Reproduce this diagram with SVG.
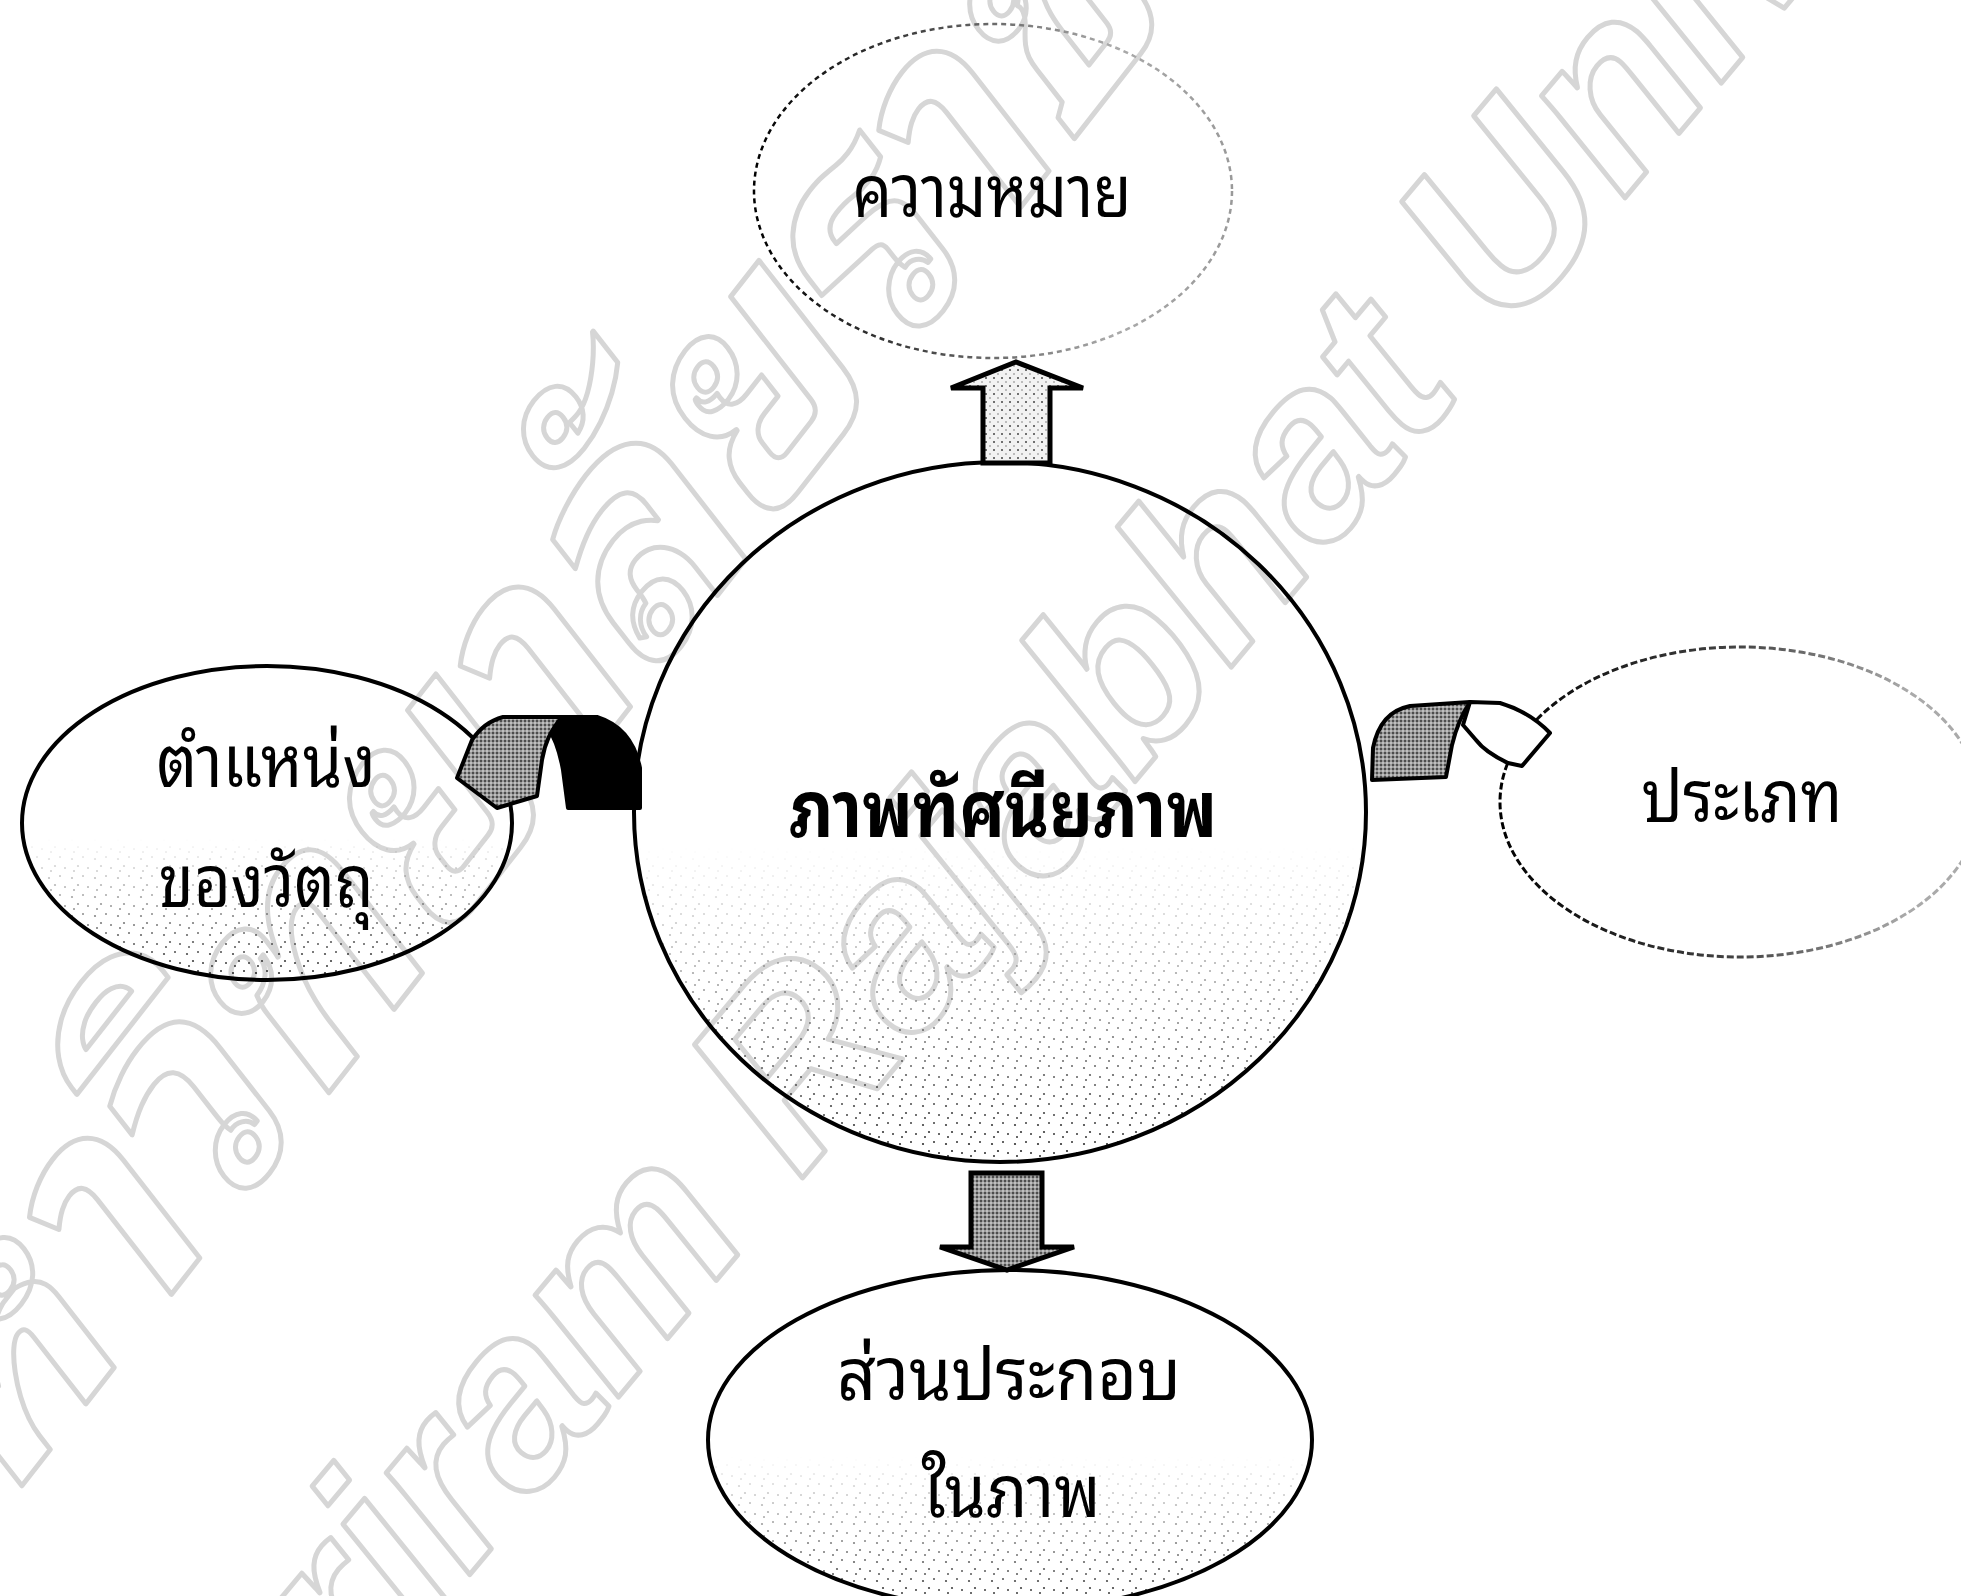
<svg xmlns="http://www.w3.org/2000/svg" width="1961" height="1596" viewBox="0 0 1961 1596">
<style>
.lbl{font-family:"Noto Sans Thai Looped","Noto Serif Thai","Norasi","Garuda","Loma","Noto Sans Thai","Tlwg Typo","Sarabun","DejaVu Sans",sans-serif;font-size:72px;fill:#000;text-anchor:middle}
.title{font-weight:bold;font-size:78px}
.wm{fill:none;stroke:#d6d6d6;stroke-width:5;stroke-linejoin:round}
.wmen{font-family:"Liberation Sans",Arial,sans-serif;font-weight:bold;font-style:italic;font-size:245px}
.wmth{font-family:"Noto Sans Thai Looped","Noto Sans Thai","Garuda","Loma","DejaVu Sans",sans-serif;font-weight:bold;font-style:italic;font-size:310px}
.node{fill:none;stroke:#000;stroke-width:4}
.arrow{stroke:#000;stroke-width:5;stroke-linejoin:miter}
</style>
<defs>
<pattern id="sparse" width="23" height="19" patternUnits="userSpaceOnUse">
<circle cx="3" cy="4" r="1.1" fill="#222"/><circle cx="14" cy="2" r="1" fill="#222"/><circle cx="9" cy="11" r="1.1" fill="#222"/><circle cx="19" cy="13" r="1" fill="#222"/><circle cx="5" cy="16" r="1" fill="#222"/>
</pattern>
<pattern id="light" width="8" height="8" patternUnits="userSpaceOnUse">
<rect width="8" height="8" fill="#f2f2f2"/><circle cx="2" cy="2" r="1" fill="#444"/><circle cx="6" cy="6" r="0.8" fill="#777"/>
</pattern>
<pattern id="mid" width="4" height="4" patternUnits="userSpaceOnUse">
<rect width="4" height="4" fill="#9a9a9a"/><circle cx="1" cy="1" r="1" fill="#333"/><circle cx="3" cy="3" r="0.8" fill="#eee"/>
</pattern>
<linearGradient id="fadeDown" x1="0" y1="0" x2="0" y2="1">
<stop offset="0.55" stop-color="#fff" stop-opacity="0"/><stop offset="1" stop-color="#fff" stop-opacity="1"/>
</linearGradient>
<mask id="mBottom" maskContentUnits="objectBoundingBox"><rect width="1" height="1" fill="url(#fadeDown)"/></mask>
<linearGradient id="fadeTop" gradientUnits="userSpaceOnUse" x1="754" y1="0" x2="1232" y2="0">
<stop offset="0" stop-color="#000"/><stop offset="0.35" stop-color="#444"/><stop offset="0.75" stop-color="#aaa"/><stop offset="1" stop-color="#999"/>
</linearGradient>
<linearGradient id="fadeRight" gradientUnits="userSpaceOnUse" x1="1500" y1="0" x2="1980" y2="0">
<stop offset="0" stop-color="#000"/><stop offset="0.5" stop-color="#444"/><stop offset="0.85" stop-color="#aaa"/>
</linearGradient>
</defs>
<rect width="1961" height="1596" fill="#fff"/>

<g id="watermark">
<text class="wm wmth" x="0" y="0" transform="translate(935,317) rotate(-52)" text-anchor="middle">มหาวิทยาลัยราชภัฏบุรีรัมย์</text>
<text class="wm wmen" x="0" y="0" transform="translate(1211,691) rotate(-50)" text-anchor="middle">Buriram Rajabhat University</text>
</g>

<g id="node-center">
<ellipse cx="1000" cy="812" rx="366" ry="350" fill="url(#sparse)" mask="url(#mBottom)" stroke="none"/>
<ellipse class="node" cx="1000" cy="812" rx="366" ry="350"/>
<text class="lbl title" x="1003" y="837" textLength="428" lengthAdjust="spacingAndGlyphs">ภาพทัศนียภาพ</text>
</g>

<g id="node-top">
<ellipse cx="993" cy="191" rx="239" ry="167" fill="none" stroke="url(#fadeTop)" stroke-width="2.5" stroke-dasharray="5 4"/>
<text class="lbl" x="992" y="217" textLength="279" lengthAdjust="spacingAndGlyphs">ความหมาย</text>
</g>

<g id="node-left">
<ellipse cx="267" cy="823" rx="245" ry="157" fill="url(#sparse)" mask="url(#mBottom)" stroke="none"/>
<ellipse class="node" cx="267" cy="823" rx="245" ry="157"/>
<text class="lbl" x="266" y="787" textLength="219" lengthAdjust="spacingAndGlyphs">ตำแหน่ง</text>
<text class="lbl" x="266" y="907" textLength="215" lengthAdjust="spacingAndGlyphs">ของวัตถุ</text>
</g>

<g id="node-right">
<ellipse cx="1740" cy="802" rx="240" ry="155" fill="none" stroke="url(#fadeRight)" stroke-width="3" stroke-dasharray="7 3"/>
<text class="lbl" x="1742" y="822" textLength="201" lengthAdjust="spacingAndGlyphs">ประเภท</text>
</g>

<g id="node-bottom">
<ellipse cx="1010" cy="1440" rx="302" ry="170" fill="url(#sparse)" mask="url(#mBottom)" stroke="none"/>
<ellipse class="node" cx="1010" cy="1440" rx="302" ry="170"/>
<text class="lbl" x="1009" y="1400" textLength="344" lengthAdjust="spacingAndGlyphs">ส่วนประกอบ</text>
<text class="lbl" x="1011" y="1517" textLength="179" lengthAdjust="spacingAndGlyphs">ในภาพ</text>
</g>

<g id="connectors">
<path id="arrow-up" class="arrow" fill="url(#light)" d="M983,463 L983,388 L951,388 L1016,362 L1083,388 L1050,388 L1050,463 Z"/>
<path id="arrow-down" class="arrow" fill="url(#mid)" d="M971,1173 L1042,1173 L1042,1247 L1074,1247 L1007,1270 L940,1247 L971,1247 Z"/>
<g id="ribbon-left">
<path d="M560,717 L597,717 Q632,728 640,768 L640,808 L568,808 L563,770 Q558,742 548,728 Z" fill="#000" stroke="#000" stroke-width="4" stroke-linejoin="round"/>
<path d="M457,778 L472,740 Q484,722 503,717 L562,717 Q546,735 542,760 L537,796 L497,808 Z" fill="url(#mid)" stroke="#000" stroke-width="4" stroke-linejoin="round"/>
</g>
<g id="ribbon-right">
<path d="M1470,702 L1500,703 Q1530,712 1550,733 L1522,766 L1508,763 Q1485,752 1476,740 L1463,725 Z" fill="#fff" stroke="#000" stroke-width="4" stroke-linejoin="round"/>
<path d="M1372,780 L1373,748 Q1380,712 1410,706 L1470,702 Q1458,720 1452,745 L1446,777 Z" fill="url(#mid)" stroke="#000" stroke-width="4" stroke-linejoin="round"/>
</g>
</g>
</svg>
